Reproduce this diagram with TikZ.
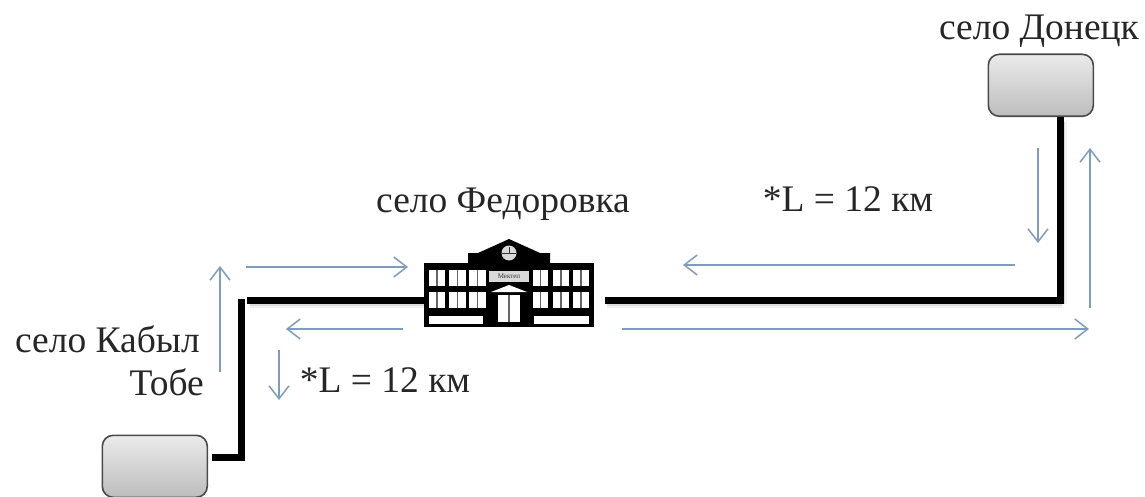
\documentclass[tikz,border=0pt]{standalone}
\usepackage{fontspec}
\setmainfont{Liberation Serif}
\usetikzlibrary{arrows.meta}
\definecolor{flow}{HTML}{7F9CBD}
\definecolor{edgeg}{HTML}{4A4A4A}
\tikzset{
  x=1pt,y=-1pt,
  lbl/.style={font=\fontsize{37.5}{40}\selectfont,text=black!85,inner sep=0pt},
  village/.style={draw=edgeg,line width=1.6pt,rounded corners=11pt,top color=white!92!black,bottom color=white!74!black,minimum width=105pt,minimum height=62pt,inner sep=0pt,anchor=north west},
  wire/.style={line width=7pt,black},
  wireshadow/.style={line width=7pt,black!12,opacity=.4},
  wireshadowb/.style={line width=3.5pt,black!25,opacity=.4},
  flowarrow/.style={draw=flow,line width=1.5pt,-{Straight Barb[length=13pt,width=20pt,line width=1.5pt]}},
  school/.style={inner sep=0pt,minimum width=170pt,minimum height=64pt,anchor=north west},
  pane/.style={fill=white,draw=none},
}
\begin{document}
\begin{tikzpicture}
\useasboundingbox (0,0) rectangle (1145,497);
\fill[white] (0,0) rectangle (1145,497);
\begin{scope}
\clip (0,0) rectangle (1145,497);
% nodes
\node[village] (don) at (987.5,53.5) {};
\node[village] (kab) at (101.5,434.5) {};
\node[school] (sch) at (424,263) {};
\coordinate (c1) at (241,457);
\coordinate (c2) at (241,299);
\coordinate (c3) at (247,300);
\coordinate (c4) at (1060,300);
% shadows
\foreach \s in {wireshadow,wireshadowb}{
  \draw[\s] (250,304) -- (424,304);
  \draw[\s] (607,304) -- (1062,304);
  \draw[\s] (1063,122) -- (1063,304);
}
% wires
\draw[wire] (kab.east |- c1) ++(4,0) -- (c1) ++(0,3.5) -- ([yshift=0pt]c2);
\draw[wire] (c3) -- (sch.west |- c3);
\draw[wire] (sch.east |- c4) ++(11,0) -- ([xshift=3.5pt]c4);
\draw[wire] (don.south -| c4) -- ([yshift=-3.5pt]c4);
% building
\fill[black] (424,263) rectangle (594,327);
\fill[black] (468,263) -- (468,253) -- (478,253) -- (509,239) -- (540,253) -- (550,253) -- (550,263) -- cycle;
\foreach \xa/\xb in {429/445,449/466,469/486,533/548,553/569,573/589}{
  \foreach \ya/\yb in {270/286,292/308}{
    \fill[pane] (\xa,\ya) rectangle (\xb,\yb);
    \fill[black!60] ({(\xa+\xb)/2-.7},\ya) rectangle ({(\xa+\xb)/2+.7},\yb);
  }
}
\fill[pane] (429,316) rectangle (483,324);
\fill[pane] (534,316) rectangle (589,324);
\fill[white!85!black] (489,271) rectangle (529,282);
\node[inner sep=0pt,font=\fontsize{7}{7}\selectfont,text=black!80] (sign) at (509,276.5) {Мектеп};
\fill[pane] (491,292) -- (509,285) -- (527,292) -- cycle;
\fill[pane] (498,295) rectangle (520,322);
\fill[black!60] (508.3,295) rectangle (509.7,322);
\fill[white!85!black] (509,253) circle (7.5);
\draw[black!80,line width=1pt] (502,253) -- (516,253) (509,253) -- (509,247);
% arrows
\coordinate (a1s) at (220,372); \coordinate (a1e) at (220,266);
\coordinate (a2s) at (246,267); \coordinate (a2e) at (408,267);
\coordinate (a3s) at (403,329); \coordinate (a3e) at (286,329);
\coordinate (a4s) at (279,350); \coordinate (a4e) at (279,400);
\coordinate (a5s) at (1038,148); \coordinate (a5e) at (1038,243);
\coordinate (a6s) at (1090,308); \coordinate (a6e) at (1090,148);
\coordinate (a7s) at (622,329); \coordinate (a7e) at (1089,329);
\coordinate (a8s) at (1015,265); \coordinate (a8e) at (683,265);
\foreach \n in {1,...,8}{\draw[flowarrow] (a\n s) -- (a\n e);}
% labels
\node[lbl] (t1) at (1039,31) {село Донецк};
\node[lbl] (t2) at (503,204) {село Федоровка};
\node[lbl] (t3) at (848,199.5) {*L = 12 км};
\node[lbl] (t4) at (385,380.5) {*L = 12 км};
\node[lbl,anchor=east] (t5) at (200,339.5) {село Кабыл};
\node[lbl,anchor=east] (t6) at (204,382) {Тобе};
\end{scope}
\end{tikzpicture}
\end{document}
